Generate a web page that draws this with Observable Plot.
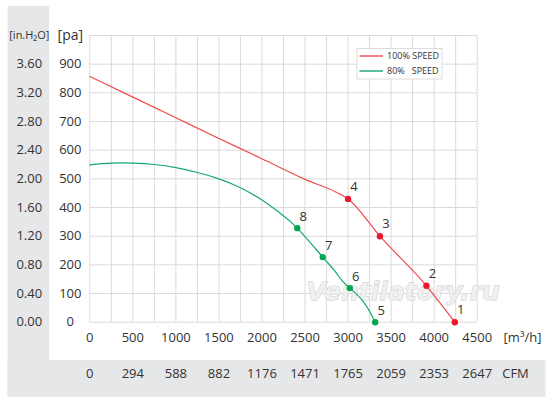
<!DOCTYPE html>
<html>
<head>
<meta charset="utf-8">
<script src="https://cdn.jsdelivr.net/npm/d3@7"></script>
<script src="https://cdn.jsdelivr.net/npm/@observablehq/plot@0.6"></script>
<style>
  html, body { margin: 0; padding: 0; background: #fff; }
  #chart { width: 556px; height: 404px; }
</style>
</head>
<body>
<div id="chart"></div>
<script>
// ---- data ----
const flow100 = [0, 500, 1000, 1500, 2000, 2500, 2850, 3000, 3370, 3910, 4240];
const pa100   = [857, 785, 713, 641, 570, 498, 455, 430, 300, 127, 0];
const flow80  = [0, 250, 500, 750, 1000, 1250, 1500, 1750, 2000, 2215, 2410, 2706, 2834, 2931, 3020, 3182, 3315];
const pa80    = [549, 555, 555, 550, 539, 522, 500, 469, 426, 379, 328, 227, 183, 145, 119, 70, 0];

const ptNo100   = ["1", "2", "3", "4"];
const ptFlow100 = [4240, 3910, 3370, 3000];
const ptPa100   = [0, 127, 300, 430];
const ptNo80    = ["5", "6", "7", "8"];
const ptFlow80  = [3315, 3020, 2706, 2410];
const ptPa80    = [0, 119, 227, 328];

const seriesNames  = ["100% SPEED", "80%   SPEED"];
const seriesLine   = ["#f04a4f", "#14a870"];
const seriesDot    = ["#e8192c", "#00a651"];

const xTicks   = [0, 500, 1000, 1500, 2000, 2500, 3000, 3500, 4000, 4500];
const cfmTicks = ["0", "294", "588", "882", "1176", "1471", "1765", "2059", "2353", "2647"];
const paTicks  = [0, 100, 200, 300, 400, 500, 600, 700, 800, 900];
const inTicks  = ["0.00", "0.40", "0.80", "1.20", "1.60", "2.00", "2.40", "2.80", "3.20", "3.60"];
const xGrid = d3.range(0, 4501, 250);
const yGrid = d3.range(0, 1001, 100);

// ---- tables ----
const line100 = flow100.map((f, i) => ({flow: f, pa: pa100[i]}));
const line80  = flow80.map((f, i) => ({flow: f, pa: pa80[i]}));
const pts100  = ptFlow100.map((f, i) => ({flow: f, pa: ptPa100[i], no: ptNo100[i]}));
const pts80   = ptFlow80.map((f, i) => ({flow: f, pa: ptPa80[i], no: ptNo80[i]}));

const font = "'Open Sans', 'Noto Sans', sans-serif";
const txt = "#333";

const chart = Plot.plot({
  width: 556,
  height: 404,
  marginLeft: 89.3,
  marginRight: 79.3,
  marginTop: 35,
  marginBottom: 82.3,
  style: {fontFamily: font, fontSize: "13px", background: "transparent", color: txt},
  x: {domain: [0, 4500], axis: null},
  y: {domain: [0, 1000], axis: null},
  marks: [
    Plot.gridX(xGrid, {stroke: "#dadada", strokeOpacity: 1}),
    Plot.gridY(yGrid, {stroke: "#dadada", strokeOpacity: 1}),
    // watermark
    Plot.text(["Ventilatory.ru"], {frameAnchor: "bottom-right", dx: -74, dy: -22,
      textAnchor: "middle", fontSize: 25, fontStyle: "italic", fontWeight: "bold",
      fill: "#f0f0f0", stroke: "#c8c8c8", strokeWidth: 0.9, fontFamily: "'DejaVu Sans', sans-serif"}),
    // curves
    Plot.line(line100, {x: "flow", y: "pa", stroke: seriesLine[0], strokeWidth: 1.2, curve: "monotone-x"}),
    Plot.line(line80,  {x: "flow", y: "pa", stroke: seriesLine[1], strokeWidth: 1.2, curve: "natural"}),
    Plot.dot(pts100, {x: "flow", y: "pa", r: 3.2, fill: seriesDot[0]}),
    Plot.dot(pts80,  {x: "flow", y: "pa", r: 3.2, fill: seriesDot[1]}),
    Plot.text(pts100, {x: "flow", y: "pa", text: "no", dx: 6, dy: -12, fontSize: 13, fill: txt}),
    Plot.text(pts80,  {x: "flow", y: "pa", text: "no", dx: 6, dy: -11, fontSize: 13, fill: txt}),
    // y labels (pa)
    Plot.text(paTicks, {y: d => d, text: d => String(d), frameAnchor: "left", dx: -19.5,
      textAnchor: "middle", fontSize: 13, fill: txt}),
    // y labels (in.H2O)
    Plot.text(inTicks, {y: (d, i) => paTicks[i], text: d => d, frameAnchor: "left", dx: -60.5,
      textAnchor: "middle", fontSize: 13, fill: txt}),
    Plot.text(["[pa]"], {frameAnchor: "top-left", dx: -19.5, textAnchor: "middle", lineAnchor: "middle",
      fontSize: 14, fill: txt}),
    Plot.text(["[in.H₂O]"], {frameAnchor: "top-left", dx: -60.5, textAnchor: "middle", lineAnchor: "middle",
      fontSize: 11, fill: txt}),
    // x labels
    Plot.text(xTicks, {x: d => d, text: d => String(d), frameAnchor: "bottom", dy: 20,
      fontSize: 13, fill: txt}),
    Plot.text(cfmTicks, {x: (d, i) => xTicks[i], text: d => d, frameAnchor: "bottom", dy: 56,
      fontSize: 13, fill: txt}),
    Plot.text(["[m³/h]"], {frameAnchor: "bottom-right", dx: 45.3, dy: 20, textAnchor: "middle",
      fontSize: 13, fill: txt}),
    Plot.text(["CFM"], {frameAnchor: "bottom-right", dx: 38.3, dy: 56, textAnchor: "middle",
      fontSize: 13, fill: txt})
  ]
});

const svg = d3.select(chart);
// grey panels (decoration)
svg.insert("rect", ":first-child").attr("x", 7.5).attr("y", 360).attr("width", 538).attr("height", 37).attr("fill", "#e6e7e8");
svg.insert("rect", ":first-child").attr("x", 7.5).attr("y", 6).attr("width", 41.5).attr("height", 391).attr("fill", "#e6e7e8");

// legend
const lg = svg.append("g").attr("font-family", font).attr("font-size", 9).attr("fill", txt)
  .attr("text-anchor", "start");
lg.append("rect").attr("x", 357).attr("y", 48.5).attr("width", 85).attr("height", 30.5)
  .attr("fill", "#fff").attr("stroke", "#dcdcdc");
seriesNames.forEach((name, i) => {
  const yy = 56 + i * 15;
  lg.append("line").attr("x1", 359.5).attr("x2", 383).attr("y1", yy).attr("y2", yy)
    .attr("stroke", seriesLine[i]).attr("stroke-width", 1.4);
  lg.append("text").attr("x", 387).attr("y", yy).attr("dy", "0.35em").attr("text-anchor", "start")
    .attr("xml:space", "preserve").style("white-space", "pre").text(name);
});

document.getElementById("chart").appendChild(chart);
</script>
</body>
</html>
